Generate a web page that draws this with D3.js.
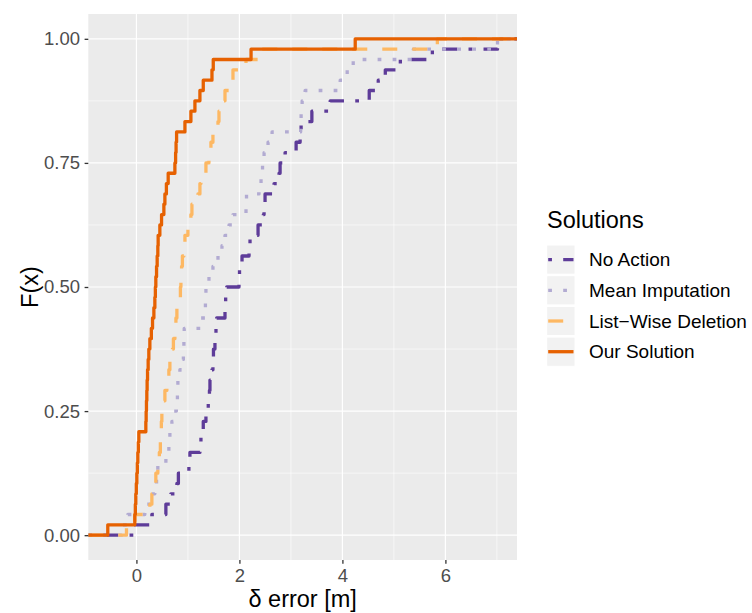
<!DOCTYPE html>
<html>
<head>
<meta charset="utf-8">
<script src="https://cdn.jsdelivr.net/npm/d3@7"></script>
<style>
  html, body { margin: 0; padding: 0; background: #ffffff; }
  svg { display: block; }
  text { font-family: "Liberation Sans", Arial, sans-serif; }
</style>
</head>
<body>
<svg id="chart" width="752" height="613"></svg>
<script>
// ---- Data (sorted sample values of δ error [m], n = 48 per solution) ----
const seriesNames = ["No Action", "Mean Imputation", "List\u2212Wise Deletion", "Our Solution"];

const noAction = [-0.051, 0.300, 0.572, 0.669, 0.786, 0.815, 1.019, 1.039, 1.233, 1.253,
  1.298, 1.350, 1.395, 1.418, 1.428, 1.467, 1.486, 1.496, 1.525, 1.545,
  1.558, 1.720, 1.733, 1.753, 1.992, 2.002, 2.051, 2.187, 2.206, 2.362,
  2.465, 2.479, 2.498, 2.673, 2.770, 2.790, 2.887, 3.101, 3.179, 3.198,
  3.407, 3.763, 4.521, 4.696, 4.833, 5.125, 5.747, 7.012];

const meanImputation = [-0.284, -0.167, 0.163, 0.261, 0.358, 0.391, 0.416, 0.572, 0.630, 0.650,
  0.689, 0.728, 0.776, 0.796, 0.805, 0.844, 0.883, 0.912, 0.922, 0.928,
  1.253, 1.331, 1.340, 1.350, 1.409, 1.486, 1.584, 1.661, 1.720, 1.798,
  1.875, 2.128, 2.138, 2.381, 2.420, 2.449, 2.479, 2.556, 2.634, 3.189,
  3.198, 3.218, 3.276, 3.957, 4.093, 4.210, 5.377, 7.012];

const listWiseDeletion = [-0.193, -0.031, 0.261, 0.300, 0.358, 0.377, 0.416, 0.445, 0.465, 0.475,
  0.484, 0.494, 0.533, 0.553, 0.591, 0.630, 0.650, 0.698, 0.718, 0.747,
  0.767, 0.786, 0.835, 0.854, 0.864, 0.877, 0.893, 0.922, 0.942, 1.000,
  1.058, 1.078, 1.195, 1.233, 1.253, 1.350, 1.408, 1.447, 1.486, 1.584,
  1.603, 1.661, 1.720, 1.798, 1.875, 2.128, 2.362, 5.844];

const ourSolution = [-0.556, -0.031, -0.021, -0.012, -0.002, 0.008, 0.018, 0.027, 0.037, 0.047,
  0.183, 0.189, 0.195, 0.202, 0.208, 0.216, 0.228, 0.241, 0.261, 0.290,
  0.313, 0.339, 0.358, 0.368, 0.377, 0.391, 0.403, 0.416, 0.422, 0.455,
  0.488, 0.533, 0.553, 0.582, 0.617, 0.747, 0.761, 0.770, 0.780, 0.942,
  1.058, 1.136, 1.233, 1.298, 1.467, 1.492, 2.226, 4.249];

const seriesValues = [noAction, meanImputation, listWiseDeletion, ourSolution];
const seriesColors = ["#5e3c99", "#b2abd2", "#fdb863", "#e66101"];
const xTicks = [0, 2, 4, 6];
const xMinorTicks = [1, 3, 5, 7];
const yTicks = [0, 0.25, 0.5, 0.75, 1];
const yMinorTicks = [0.125, 0.375, 0.625, 0.875];

// ---- Layout ----
const panel = { left: 88.3, right: 517, top: 14, bottom: 560 };
const lw = 3.3;          // line width
const du = 3.75;         // dash unit
const dashes = [
  `${du} ${3*du} ${4*du} ${3*du}`, // dotdash
  `${du} ${3*du}`,                  // dotted
  `${4*du} ${4*du}`,                // dashed
  null                              // solid
];

const svg = d3.select("#chart");

const all = seriesValues.flat();
const [dmin, dmax] = d3.extent(all);
const pad = (dmax - dmin) * 0.05;
const x = d3.scaleLinear().domain([dmin - pad, dmax + pad]).range([panel.left, panel.right]);
const y = d3.scaleLinear().domain([-0.05, 1.05]).range([panel.bottom, panel.top]);

// Panel background
svg.append("rect")
  .attr("x", panel.left).attr("y", panel.top)
  .attr("width", panel.right - panel.left).attr("height", panel.bottom - panel.top)
  .attr("fill", "#ebebeb");

const grid = svg.append("g");
xMinorTicks.filter(v => v >= x.domain()[0] && v <= x.domain()[1]).forEach(v => {
  grid.append("line").attr("x1", x(v)).attr("x2", x(v)).attr("y1", panel.top).attr("y2", panel.bottom)
    .attr("stroke", "#fff").attr("stroke-width", 0.6);
});
yMinorTicks.forEach(v => {
  grid.append("line").attr("x1", panel.left).attr("x2", panel.right).attr("y1", y(v)).attr("y2", y(v))
    .attr("stroke", "#fff").attr("stroke-width", 0.6);
});
xTicks.forEach(v => {
  grid.append("line").attr("x1", x(v)).attr("x2", x(v)).attr("y1", panel.top).attr("y2", panel.bottom)
    .attr("stroke", "#fff").attr("stroke-width", 1.2);
});
yTicks.forEach(v => {
  grid.append("line").attr("x1", panel.left).attr("x2", panel.right).attr("y1", y(v)).attr("y2", y(v))
    .attr("stroke", "#fff").attr("stroke-width", 1.2);
});

// ECDF step lines
const line = d3.line().x(d => x(d[0])).y(d => y(d[1])).curve(d3.curveStepAfter);
svg.append("clipPath").attr("id", "pclip").append("rect")
  .attr("x", panel.left).attr("y", panel.top)
  .attr("width", panel.right - panel.left).attr("height", panel.bottom - panel.top);

const lines = svg.append("g").attr("clip-path", "url(#pclip)");
seriesValues.forEach((vals, i) => {
  const s = vals.slice().sort(d3.ascending);
  const n = s.length;
  const pts = [[x.domain()[0], 0]];
  s.forEach((v, j) => pts.push([v, (j + 1) / n]));
  pts.push([x.domain()[1], 1]);
  const p = lines.append("path")
    .attr("d", line(pts))
    .attr("fill", "none")
    .attr("stroke", seriesColors[i])
    .attr("stroke-width", lw)
    .attr("stroke-linecap", "butt")
    .attr("stroke-linejoin", "round");
  if (dashes[i]) p.attr("stroke-dasharray", dashes[i]);
});

// Axes
const fs = 18.5;
const xAxis = svg.append("g").attr("transform", `translate(0,${panel.bottom})`)
  .call(d3.axisBottom(x).tickValues(xTicks).tickFormat(d3.format("d")).tickSize(3.7).tickPadding(5.3));
const yAxis = svg.append("g").attr("transform", `translate(${panel.left},0)`)
  .call(d3.axisLeft(y).tickValues(yTicks).tickFormat(d3.format(".2f")).tickSize(3.7).tickPadding(4.6));
[xAxis, yAxis].forEach(a => {
  a.select(".domain").remove();
  a.selectAll(".tick line").attr("stroke", "#333333").attr("stroke-width", 1.3);
  a.selectAll(".tick text").attr("fill", "#4d4d4d").style("font-size", fs + "px")
    .style("font-family", '"Liberation Sans", Arial, sans-serif');
});

// Axis titles
svg.append("text")
  .attr("x", (panel.left + panel.right) / 2).attr("y", 607)
  .attr("text-anchor", "middle").style("font-size", "23.5px").attr("fill", "#000")
  .text("\u03b4 error [m]");
svg.append("text")
  .attr("transform", `translate(38,${(panel.top + panel.bottom) / 2}) rotate(-90)`)
  .attr("text-anchor", "middle").style("font-size", "23.5px").attr("fill", "#000")
  .text("F(x)");

// Legend
const leg = svg.append("g");
leg.append("text").attr("x", 547).attr("y", 228).style("font-size", "23.5px").attr("fill", "#000")
  .text("Solutions");
const keyTop = 245, keyH = 30.7, keyW = 28.3, keyX = 546.7;
seriesNames.forEach((name, i) => {
  const ky = keyTop + i * keyH;
  leg.append("rect").attr("x", keyX).attr("y", ky).attr("width", keyW).attr("height", keyH - 1.5)
    .attr("fill", "#f2f2f2").attr("stroke", "#ffffff").attr("stroke-width", 1);
  const cy = ky + (keyH - 1.5) / 2;
  const l = leg.append("line").attr("x1", keyX + 1.5).attr("x2", keyX + keyW - 1.5)
    .attr("y1", cy).attr("y2", cy)
    .attr("stroke", seriesColors[i]).attr("stroke-width", lw).attr("stroke-linecap", "butt");
  if (dashes[i]) l.attr("stroke-dasharray", dashes[i]);
  leg.append("text").attr("x", 589).attr("y", cy).attr("dy", "0.35em")
    .style("font-size", "19px").attr("fill", "#000").text(name);
});
</script>
</body>
</html>
